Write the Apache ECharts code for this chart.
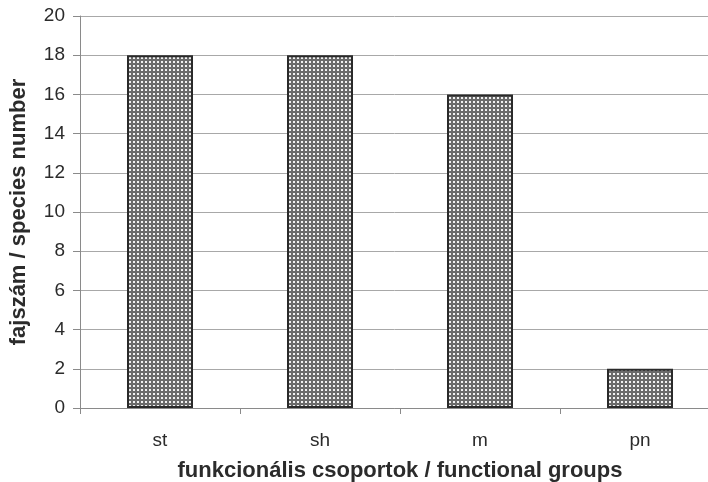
<!DOCTYPE html>
<html>
<head>
<meta charset="utf-8">
<script src="https://cdn.jsdelivr.net/npm/echarts@6/dist/echarts.min.js"></script>
<style>html,body{margin:0;padding:0;background:#fff}#c{width:708px;height:482px}</style>
</head>
<body>
<div id="c"></div>
<script>
// Functional groups and their species counts
var categories = ['st', 'sh', 'm', 'pn'];
var speciesCounts = [18, 18, 16, 2];
var yTicks = [0, 2, 4, 6, 8, 10, 12, 14, 16, 18, 20];

// Dotted fill for the bars: grey ground with a regular grid of light dots
function dotPattern() {
  var c = document.createElement('canvas');
  c.width = 4; c.height = 4;
  var g = c.getContext('2d');
  g.fillStyle = '#6a6a6a';
  g.fillRect(0, 0, 4, 4);
  g.fillStyle = '#f0f0f0';
  g.fillRect(1, 1, 2, 2);
  return c;
}

var textColor = '#2b2b2b';
var chart = echarts.init(document.getElementById('c'), null, {renderer: 'canvas'});
chart.setOption({
  animation: false,
  backgroundColor: '#ffffff',
  grid: {left: 80, top: 16, width: 640, height: 392, containLabel: false, outerBoundsMode: 'none'},
  xAxis: {
    type: 'category',
    data: categories,
    name: 'funkcionális csoportok / functional groups',
    nameLocation: 'middle',
    nameGap: 52,
    nameTextStyle: {fontFamily: 'Liberation Sans', fontWeight: 'bold', fontSize: 22, color: textColor},
    axisLine: {lineStyle: {color: '#8a8a8a', width: 1}},
    axisTick: {show: true, length: 6, lineStyle: {color: '#8a8a8a'}},
    axisLabel: {fontFamily: 'Liberation Sans', fontSize: 19, color: textColor, margin: 23}
  },
  yAxis: {
    type: 'value',
    min: yTicks[0],
    max: yTicks[yTicks.length - 1],
    interval: 2,
    name: 'fajszám / species number',
    nameLocation: 'middle',
    nameGap: 50,
    nameRotate: 90,
    nameTextStyle: {fontFamily: 'Liberation Sans', fontWeight: 'bold', fontSize: 22, color: textColor},
    axisLine: {show: true, lineStyle: {color: '#8a8a8a', width: 1}},
    axisTick: {show: true, length: 7, lineStyle: {color: '#8a8a8a'}},
    axisLabel: {fontFamily: 'Liberation Sans', fontSize: 19, color: textColor, margin: 15},
    splitLine: {show: true, lineStyle: {color: '#a8a8a8', width: 1}}
  },
  series: [{
    type: 'bar',
    data: speciesCounts,
    barWidth: 66,
    itemStyle: {
      color: {image: dotPattern(), repeat: 'repeat'},
      borderColor: '#2a2a2a',
      borderWidth: 2
    }
  }]
});
</script>
</body>
</html>
